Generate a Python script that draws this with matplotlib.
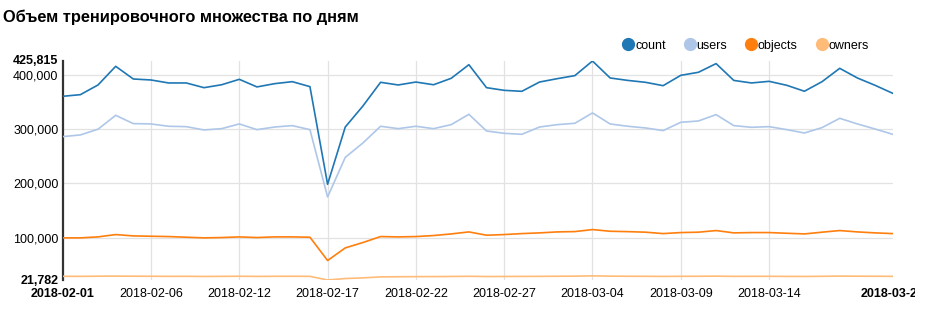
import matplotlib
matplotlib.use('Agg')
import matplotlib.pyplot as plt
from matplotlib.lines import Line2D
from matplotlib.transforms import Bbox, TransformedBbox, ScaledTranslation

plt.rcParams['font.family'] = ['Liberation Sans', 'DejaVu Sans']

# даты (одна дата между 02-06 и 02-12 отсутствует)
dates = (['2018-02-%02d' % d for d in [1, 2, 3, 4, 5, 6, 8, 9, 10, 11]] +
         ['2018-02-%02d' % d for d in range(12, 29)] +
         ['2018-03-%02d' % d for d in range(1, 22)])

count = [360700, 363700, 381600, 416000, 392600, 390800, 385300, 385300, 376600, 382000,
         392000, 378000, 384000, 387700, 378500, 198400, 304000, 342800, 386500, 381600,
         387000, 382000, 393900, 419000, 376600, 371700, 369900, 387000, 393200, 398800,
         425815, 394500, 390000, 386500, 380300, 399400, 405000, 421000, 390000, 385300,
         388300, 381000, 370000, 387700, 412300, 394500, 381000, 366200]

users = [286300, 289400, 300000, 325600, 310300, 309700, 305400, 304700, 298600, 301000,
         309700, 299200, 304000, 306600, 299200, 175000, 248000, 274600, 305400, 301000,
         305400, 301000, 308400, 327500, 296700, 292400, 290600, 304000, 308400, 310900,
         330000, 309700, 305400, 302300, 297400, 312700, 315200, 326900, 306600, 303500,
         304700, 299200, 293000, 302900, 320100, 309700, 300400, 290600]

objects = [99500, 99500, 101300, 105600, 103100, 102500, 101900, 100700, 99500, 100100,
           101300, 100100, 101300, 101300, 100700, 57700, 81000, 90900, 101900, 101300,
           101900, 103800, 106800, 110500, 104400, 105600, 107400, 108700, 110500, 111100,
           114800, 111700, 111000, 110000, 107400, 109300, 110000, 113000, 108700, 109300,
           109300, 108000, 106800, 110000, 113000, 110500, 108700, 107400]

owners = [28600, 28500, 28800, 29000, 28800, 28700, 28500, 28600, 28300, 28500,
          28700, 28400, 28600, 28700, 28500, 21782, 24500, 25700, 27500, 27800,
          28000, 28100, 28300, 28600, 28200, 28300, 28400, 28500, 28700, 28900,
          29400, 28900, 28700, 28600, 28400, 28600, 28700, 28900, 28500, 28600,
          28600, 28400, 28300, 28600, 29000, 28800, 28700, 28500]

series = [('count', count, '#1f77b4'), ('users', users, '#aec7e8'),
          ('objects', objects, '#ff7f0e'), ('owners', owners, '#ffbb78')]

y_min, y_max = 21782, 425815
x_ticks = [0, 5, 10, 15, 20, 25, 30, 35, 40, 47]
y_ticks = [21782, 100000, 200000, 300000, 400000, 425815]

fig = plt.figure(figsize=(9.28, 3.13), dpi=100)
ax = fig.add_axes([62.7 / 928, 33 / 313, 830 / 928, 219 / 313])

x = list(range(len(dates)))
for name, vals, color in series:
    ax.plot(x, vals, color=color, linewidth=1.2, label=name, zorder=3)

# сетка
for v in [100000, 200000, 300000, 400000]:
    ax.axhline(v, color='#e2e2e2', linewidth=0.9, zorder=1)
for t in x_ticks[1:-1]:
    ax.axvline(t, color='#e2e2e2', linewidth=0.9, zorder=1)

ax.set_xlim(0, len(dates) - 1)
ax.set_ylim(y_min, y_max)

for s in ['top', 'right', 'bottom']:
    ax.spines[s].set_visible(False)
ax.spines['left'].set_color('#333333')
ax.spines['left'].set_linewidth(1.6)

ax.set_xticks(x_ticks)
ax.set_xticklabels([dates[i] for i in x_ticks])
ax.set_yticks(y_ticks)
ax.set_yticklabels(['{:,}'.format(v) for v in y_ticks])
ax.tick_params(axis='both', length=0, labelsize=9, colors='black')
ax.tick_params(axis='x', pad=6)
ax.tick_params(axis='y', pad=3)

xl = ax.get_xticklabels()
xl[0].set_fontweight('bold')
xl[-1].set_fontweight('bold')
xl[-1].set_clip_box(TransformedBbox(Bbox([[0, 0], [915 / 928, 1]]), fig.transFigure))
xl[-1].set_clip_on(True)
yl = ax.get_yticklabels()
yl[0].set_fontweight('bold')
yl[-1].set_fontweight('bold')
yl[-1].set_transform(yl[-1].get_transform() + ScaledTranslation(0, 2 / 100, fig.dpi_scale_trans))

fig.text(3 / 928, 1 - 22 / 313, 'Объем тренировочного множества по дням',
         fontsize=11.8, fontweight='bold', va='baseline', ha='left')

handles = [Line2D([], [], marker='o', linestyle='', markersize=8.5, color=c) for _, _, c in series]
fig.legend(handles, [n for n, _, _ in series], loc='center', ncol=4,
           bbox_to_anchor=(745.5 / 928, 1 - 45.7 / 313), frameon=False,
           fontsize=9, handletextpad=0.05, columnspacing=1.4, handlelength=1.0)

fig.savefig('out.png', dpi=100)
